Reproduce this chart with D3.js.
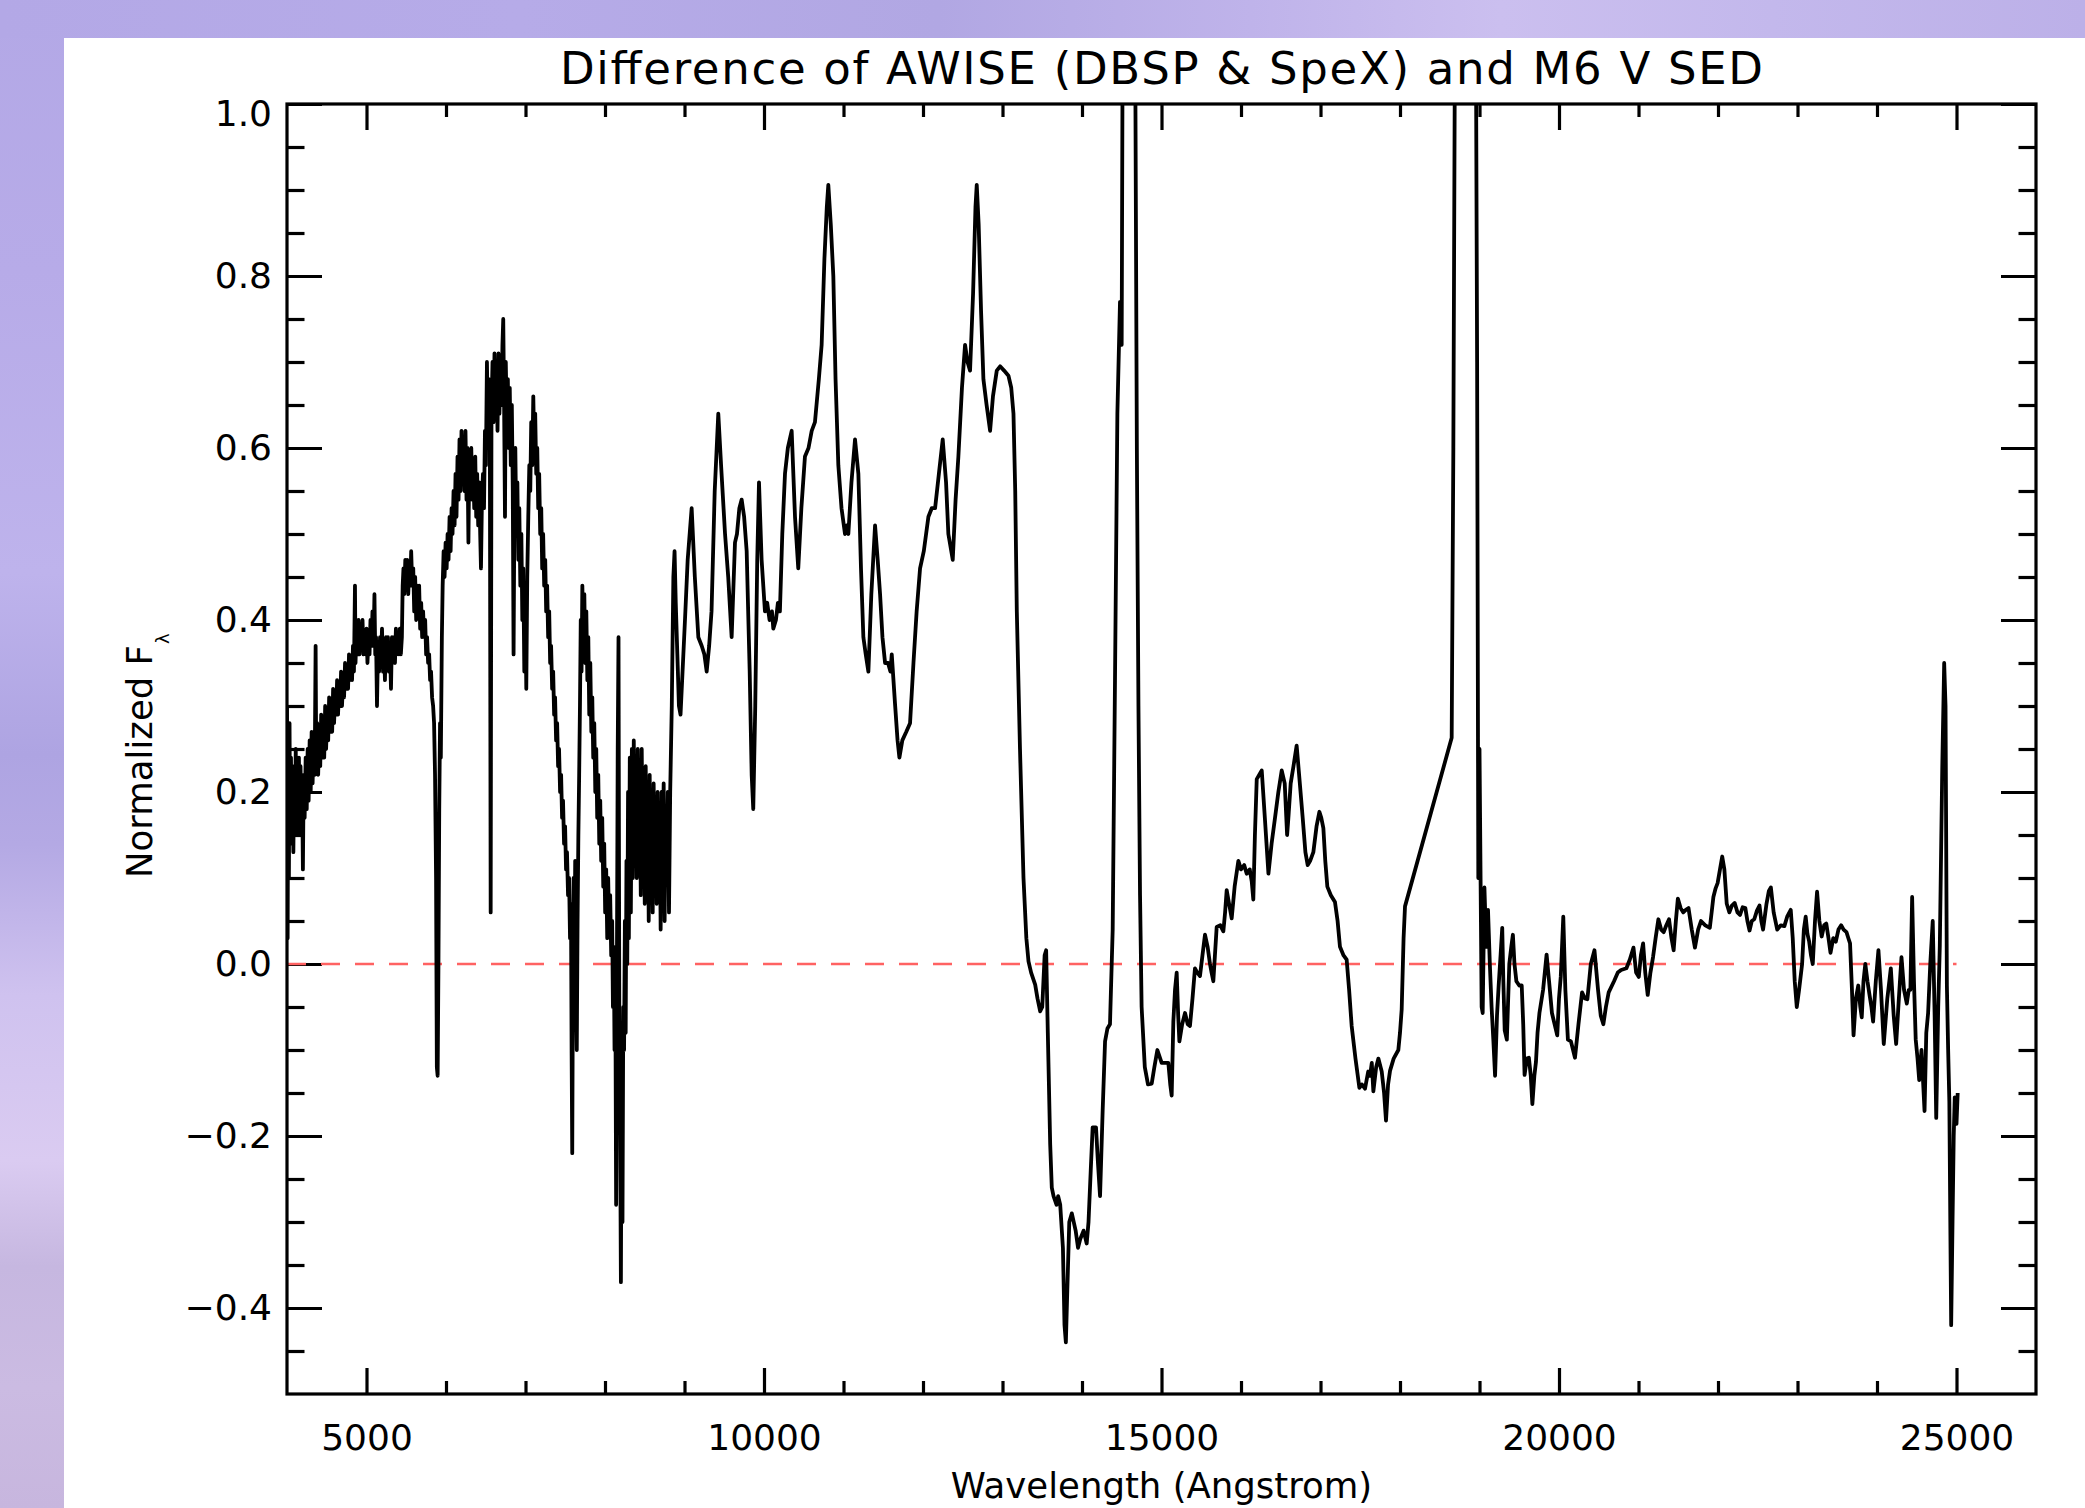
<!DOCTYPE html>
<html><head><meta charset="utf-8">
<script src="https://cdn.jsdelivr.net/npm/d3@7"></script>
<style>
html,body{margin:0;padding:0;background:#fff;}
svg{display:block;}
</style></head>
<body>
<svg id="chart" width="2085" height="1508"></svg>
<script>
// ---------------- text ----------------
const titleText = "Difference of AWISE (DBSP & SpeX) and M6 V SED";
const xTitle = "Wavelength (Angstrom)";
const yTitleMain = "Normalized F";
const yTitleSub = "\u03bb";

// ---------------- axes ----------------
const xDomain = [4000, 26000];
const yDomain = [-0.5, 1.0];
const xMajorTicks = [5000, 10000, 15000, 20000, 25000];
const xMinorTicks = [6000, 7000, 8000, 9000, 11000, 12000, 13000, 14000, 16000, 17000, 18000, 19000, 21000, 22000, 23000, 24000];
const yMajorTicks = [-0.4, -0.2, 0.0, 0.2, 0.4, 0.6, 0.8, 1.0];
const yMinorTicks = [-0.45, -0.35, -0.3, -0.25, -0.15, -0.1, -0.05, 0.05, 0.1, 0.15, 0.25, 0.3, 0.35, 0.45, 0.5, 0.55, 0.65, 0.7, 0.75, 0.85, 0.9, 0.95];

// reference zero level (red dashed)
const zeroLine = [[4000, 0], [25000, 0]];

// ---------------- data: [wavelength (A), normalized flux difference] ----------------
// DBSP optical part (dense, noisy)
const dbspSpectrum = [
[4000,0.30],[4008,0.03],[4016,0.26],[4024,0.10],[4032,0.28],[4040,0.14],[4050,0.24],[4060,0.15],[4070,0.22],[4080,0.13],
[4090,0.23],[4100,0.16],[4110,0.25],[4120,0.15],[4130,0.22],[4140,0.17],[4150,0.24],[4160,0.15],[4170,0.23],[4180,0.18],
[4190,0.21],[4200,0.11],[4210,0.22],[4222,0.17],[4235,0.24],[4248,0.18],[4260,0.25],[4272,0.19],[4285,0.26],[4298,0.20],
[4310,0.27],[4322,0.21],[4335,0.26],[4348,0.22],[4360,0.37],[4368,0.23],[4380,0.28],[4392,0.22],[4405,0.27],[4418,0.23],
[4430,0.29],[4442,0.24],[4455,0.28],[4468,0.24],[4480,0.30],[4492,0.25],[4505,0.29],[4518,0.26],[4530,0.31],[4542,0.27],
[4555,0.30],[4568,0.27],[4580,0.32],[4592,0.28],[4605,0.31],[4618,0.29],[4630,0.33],[4642,0.29],[4655,0.32],[4668,0.30],
[4680,0.34],[4692,0.30],[4705,0.33],[4718,0.31],[4730,0.35],[4742,0.32],[4755,0.34],[4768,0.32],[4780,0.36],[4792,0.33],
[4805,0.35],[4818,0.33],[4830,0.37],[4842,0.34],[4855,0.44],[4862,0.35],[4875,0.39],[4888,0.36],[4900,0.40],[4912,0.36],
[4925,0.39],[4938,0.37],[4950,0.40],[4962,0.36],[4975,0.38],[4988,0.36],[5000,0.39],[5012,0.35],[5025,0.38],[5038,0.36],
[5050,0.40],[5062,0.37],[5075,0.41],[5088,0.37],[5100,0.43],[5110,0.36],[5120,0.38],[5132,0.30],[5145,0.37],[5158,0.34],
[5170,0.38],[5182,0.35],[5195,0.39],[5208,0.34],[5220,0.37],[5232,0.33],[5245,0.38],[5258,0.35],[5270,0.38],[5282,0.34],
[5295,0.37],[5308,0.32],[5320,0.38],[5332,0.35],[5345,0.38],[5358,0.35],[5370,0.39],[5382,0.36],[5395,0.38],[5408,0.36],
[5420,0.39],[5432,0.36],[5445,0.38],[5455,0.44],[5465,0.46],[5475,0.43],[5488,0.47],[5500,0.44],[5512,0.47],[5525,0.43],
[5538,0.46],[5550,0.44],[5562,0.48],[5575,0.44],[5588,0.46],[5600,0.41],[5612,0.45],[5625,0.40],[5638,0.44],[5650,0.42],
[5662,0.44],[5675,0.39],[5688,0.42],[5700,0.38],[5712,0.41],[5725,0.38],[5738,0.40],[5750,0.36],[5762,0.38],[5775,0.35],
[5788,0.36],[5800,0.33],[5812,0.34],[5825,0.31],[5838,0.30],[5850,0.28],[5862,0.22],[5875,0.10],[5885,-0.12],[5895,-0.13],
[5905,0.00],[5915,0.18],[5925,0.28],[5935,0.24],[5948,0.38],[5958,0.44],[5970,0.48],[5982,0.45],[5995,0.49],[6008,0.46],
[6020,0.50],[6032,0.47],[6045,0.52],[6058,0.48],[6070,0.53],[6082,0.50],[6095,0.55],[6108,0.51],[6120,0.57],[6132,0.52],
[6145,0.59],[6158,0.54],[6170,0.61],[6182,0.55],[6195,0.62],[6208,0.56],[6220,0.61],[6232,0.55],[6245,0.62],[6258,0.54],
[6270,0.60],[6282,0.49],[6292,0.58],[6305,0.55],[6318,0.60],[6330,0.54],[6342,0.58],[6355,0.53],[6368,0.59],[6380,0.52],
[6392,0.57],[6405,0.51],[6418,0.56],[6430,0.50],[6440,0.46],[6452,0.54],[6465,0.57],[6478,0.53],[6490,0.62],[6502,0.58],
[6515,0.70],[6528,0.62],[6540,0.68],[6552,0.60],[6562,0.06],[6572,0.64],[6585,0.70],[6598,0.63],[6610,0.71],[6622,0.64],
[6635,0.70],[6648,0.62],[6660,0.71],[6672,0.64],[6685,0.69],[6698,0.65],[6710,0.72],[6720,0.75],[6730,0.66],[6742,0.52],
[6752,0.70],[6765,0.63],[6778,0.68],[6790,0.60],[6802,0.67],[6815,0.58],[6828,0.65],[6840,0.55],[6850,0.36],[6860,0.52],
[6872,0.60],[6885,0.50],[6898,0.56],[6910,0.47],[6922,0.53],[6935,0.44],[6948,0.50],[6960,0.40],[6972,0.46],[6985,0.34],
[6998,0.42],[7010,0.32],[7022,0.45],[7035,0.52],[7048,0.58],[7060,0.55],[7072,0.63],[7085,0.58],[7098,0.66],[7110,0.60],
[7122,0.64],[7135,0.57],[7148,0.60],[7160,0.53],[7172,0.57],[7185,0.50],[7198,0.53],[7210,0.46],[7222,0.50],[7235,0.44],
[7248,0.47],[7260,0.41],[7272,0.44],[7285,0.38],[7298,0.41],[7310,0.35],[7322,0.37],[7335,0.32],[7348,0.34],[7360,0.29],
[7372,0.31],[7385,0.26],[7398,0.28],[7410,0.23],[7422,0.25],[7435,0.20],[7448,0.22],[7460,0.17],[7472,0.19],[7485,0.14],
[7498,0.16],[7510,0.11],[7522,0.13],[7535,0.08],[7548,0.10],[7560,0.03],[7572,0.07],[7580,-0.10],[7588,-0.22],[7595,-0.05],
[7605,0.10],[7615,-0.02],[7625,0.12],[7635,-0.03],[7645,-0.10],[7655,0.05],[7665,0.15],[7675,0.22],[7685,0.30],[7695,0.40],
[7705,0.34],[7715,0.44],[7728,0.38],[7740,0.43],[7752,0.35],[7765,0.41],[7778,0.33],[7790,0.38],[7802,0.29],[7815,0.35],
[7828,0.27],[7840,0.31],[7852,0.24],[7865,0.28],[7878,0.20],[7890,0.25],[7902,0.17],[7915,0.22],[7928,0.14],[7940,0.19],
[7952,0.12],[7965,0.17],[7978,0.09],[7990,0.14],[8002,0.06],[8015,0.11],[8028,0.03],[8040,0.10],[8052,0.04],[8065,0.08],
[8078,0.01],[8090,0.05],[8100,-0.05],[8110,0.02],[8120,-0.10],[8130,-0.02],[8140,-0.28],[8150,0.00],[8160,0.25],[8170,0.38],
[8180,-0.05],[8190,-0.18],[8200,-0.37],[8210,-0.10],[8220,-0.30],[8230,-0.05],[8240,-0.10],[8250,0.05],[8260,-0.08],[8270,0.12],
[8280,0.00],[8290,0.20],[8300,0.03],[8312,0.24],[8325,0.06],[8338,0.25],[8350,0.10],[8362,0.26],[8375,0.12],[8388,0.24],
[8400,0.10],[8412,0.25],[8425,0.13],[8438,0.22],[8450,0.08],[8462,0.25],[8475,0.12],[8488,0.21],[8500,0.07],[8512,0.23],
[8525,0.10],[8538,0.20],[8550,0.05],[8562,0.22],[8575,0.09],[8588,0.20],[8600,0.06],[8612,0.21],[8625,0.10],[8638,0.19],
[8650,0.07],[8662,0.20],[8675,0.09],[8688,0.18],[8700,0.04],[8712,0.20],[8725,0.12],[8738,0.21],[8750,0.05],[8762,0.18],
[8775,0.10],[8790,0.20],[8805,0.06],[8820,0.20],[8840,0.30],[8860,0.45],[8875,0.48],[8890,0.42],[8910,0.36],[8930,0.30],
[8950,0.29]
];

// SpeX J and H bands (including the telluric residual spikes that run off the top)
const spexJH = [
[9006,0.40],[9040,0.47],[9090,0.53],[9130,0.45],[9174,0.38],[9216,0.37],[9250,0.36],[9279,0.34],[9310,0.37],[9340,0.41],
[9380,0.55],[9425,0.64],[9460,0.58],[9510,0.50],[9550,0.45],[9593,0.38],[9635,0.49],[9660,0.50],[9690,0.53],[9719,0.54],
[9750,0.52],[9782,0.48],[9820,0.34],[9845,0.22],[9865,0.18],[9890,0.30],[9915,0.47],[9937,0.56],[9970,0.47],[10012,0.41],
[10040,0.42],[10070,0.40],[10100,0.41],[10117,0.39],[10150,0.40],[10175,0.42],[10200,0.41],[10230,0.50],[10264,0.57],[10300,0.60],
[10348,0.62],[10390,0.52],[10431,0.46],[10470,0.53],[10515,0.59],[10560,0.60],[10600,0.62],[10641,0.63],[10690,0.68],[10725,0.72],
[10760,0.82],[10790,0.88],[10809,0.906],[10840,0.86],[10872,0.80],[10900,0.68],[10935,0.58],[10975,0.53],[11019,0.50],[11040,0.51],
[11061,0.50],[11100,0.56],[11145,0.61],[11187,0.57],[11220,0.46],[11250,0.38],[11280,0.36],[11313,0.34],[11350,0.43],[11397,0.51],
[11430,0.47],[11460,0.43],[11490,0.38],[11523,0.35],[11560,0.35],[11590,0.34],[11607,0.36],[11650,0.30],[11680,0.26],[11703,0.24],
[11740,0.26],[11790,0.27],[11837,0.28],[11880,0.35],[11920,0.41],[11963,0.46],[12010,0.48],[12068,0.52],[12110,0.53],[12152,0.53],
[12200,0.57],[12248,0.61],[12290,0.56],[12319,0.50],[12374,0.47],[12410,0.54],[12445,0.59],[12490,0.67],[12529,0.72],[12560,0.70],
[12592,0.69],[12630,0.78],[12660,0.88],[12676,0.906],[12700,0.86],[12730,0.76],[12760,0.68],[12800,0.65],[12844,0.62],[12880,0.66],
[12928,0.69],[12970,0.695],[13020,0.69],[13075,0.684],[13110,0.67],[13138,0.64],[13160,0.55],[13180,0.41],[13220,0.25],[13264,0.10],
[13300,0.03],[13327,0.003],[13360,-0.01],[13411,-0.024],[13440,-0.04],[13474,-0.055],[13500,-0.05],[13530,0.01],[13549,0.016],[13570,-0.08],
[13600,-0.21],[13620,-0.26],[13642,-0.27],[13680,-0.28],[13700,-0.27],[13726,-0.28],[13760,-0.33],[13780,-0.42],[13797,-0.44],[13815,-0.38],
[13840,-0.30],[13872,-0.29],[13920,-0.31],[13950,-0.33],[13977,-0.32],[14020,-0.31],[14059,-0.325],[14082,-0.30],[14110,-0.24],[14134,-0.19],
[14166,-0.19],[14176,-0.19],[14200,-0.23],[14227,-0.27],[14260,-0.17],[14290,-0.09],[14320,-0.075],[14352,-0.07],[14386,0.04],[14415,0.33],
[14445,0.64],[14478,0.77],[14499,0.72],[14512,1.10],[14540,1.50],[14580,1.40],[14620,1.40],[14650,1.30],[14670,1.05],[14690,0.60],
[14710,0.30],[14730,0.08],[14750,-0.05],[14790,-0.12],[14830,-0.14],[14877,-0.139],[14910,-0.12],[14948,-0.10],[15002,-0.115],[15050,-0.115],
[15086,-0.115],[15110,-0.14],[15128,-0.153],[15149,-0.067],[15170,-0.03],[15191,-0.01],[15210,-0.06],[15225,-0.09],[15260,-0.07],[15296,-0.057],
[15330,-0.07],[15358,-0.072],[15390,-0.04],[15421,-0.005],[15450,-0.01],[15484,-0.014],[15515,0.01],[15547,0.034],[15580,0.02],[15610,0.00],
[15630,-0.01],[15652,-0.02],[15694,0.043],[15740,0.045],[15778,0.038],[15800,0.06],[15820,0.086],[15850,0.07],[15883,0.053],[15920,0.09],
[15967,0.12],[16000,0.11],[16040,0.115],[16072,0.105],[16110,0.11],[16135,0.096],[16155,0.075],[16175,0.15],[16198,0.215],[16230,0.22],
[16261,0.225],[16300,0.17],[16345,0.105],[16385,0.14],[16428,0.17],[16470,0.20],[16512,0.225],[16550,0.21],[16580,0.15],[16596,0.17],
[16625,0.21],[16660,0.23],[16700,0.254],[16740,0.21],[16776,0.17],[16810,0.13],[16839,0.115],[16870,0.12],[16910,0.13],[16950,0.16],
[16986,0.177],[17010,0.17],[17036,0.158],[17060,0.12],[17086,0.09],[17130,0.08],[17182,0.072],[17215,0.05],[17245,0.02],[17290,0.01],
[17329,0.005],[17360,-0.03],[17392,-0.072],[17440,-0.11],[17489,-0.144],[17520,-0.14],[17560,-0.145],[17600,-0.125],[17623,-0.13],[17645,-0.115],
[17665,-0.148],[17700,-0.12],[17728,-0.11],[17770,-0.125],[17800,-0.15],[17824,-0.182],[17850,-0.14],[17875,-0.124],[17920,-0.11],[17979,-0.10],
[18000,-0.08],[18021,-0.053],[18045,0.03],[18063,0.067],[18650,0.263],[18671,0.60],[18692,1.10],[18720,1.50],[18800,1.60],[18900,1.50],
[18950,1.20],[18970,0.70],[18985,0.10],[19000,0.25],[19027,-0.05]
];

// SpeX K band
const spexK = [
[19040,-0.057],[19062,0.089],[19085,0.02],[19107,0.063],[19130,0.00],[19152,-0.05],[19175,-0.09],[19196,-0.13],[19220,-0.06],[19241,-0.025],
[19265,0.01],[19286,0.042],[19300,-0.02],[19317,-0.077],[19344,-0.088],[19375,0.00],[19400,0.02],[19420,0.034],[19440,0.00],[19464,-0.02],
[19500,-0.025],[19531,-0.025],[19550,-0.07],[19567,-0.129],[19595,-0.11],[19621,-0.109],[19645,-0.13],[19665,-0.163],[19690,-0.13],[19710,-0.114],
[19730,-0.08],[19754,-0.057],[19800,-0.03],[19844,0.011],[19875,-0.02],[19911,-0.057],[19945,-0.07],[19978,-0.083],[20000,-0.04],[20022,-0.015],
[20054,0.055],[20080,-0.03],[20112,-0.088],[20150,-0.09],[20201,-0.109],[20245,-0.07],[20290,-0.033],[20325,-0.04],[20357,-0.041],[20400,0.00],
[20446,0.016],[20491,-0.03],[20525,-0.06],[20558,-0.07],[20590,-0.05],[20625,-0.033],[20692,-0.02],[20740,-0.01],[20781,-0.007],[20848,-0.005],
[20890,0.005],[20937,0.019],[20970,-0.01],[21004,-0.015],[21030,0.01],[21058,0.024],[21085,-0.01],[21116,-0.036],[21150,-0.01],[21183,0.008],
[21215,0.03],[21250,0.052],[21285,0.04],[21317,0.037],[21350,0.045],[21384,0.052],[21415,0.03],[21442,0.016],[21470,0.05],[21495,0.076],
[21530,0.065],[21562,0.06],[21595,0.063],[21629,0.065],[21670,0.04],[21710,0.019],[21750,0.04],[21786,0.05],[21840,0.045],[21897,0.042],
[21920,0.06],[21942,0.078],[21970,0.088],[21995,0.094],[22025,0.11],[22053,0.125],[22080,0.11],[22110,0.07],[22143,0.06],[22175,0.068],
[22210,0.071],[22245,0.06],[22277,0.057],[22310,0.066],[22344,0.065],[22370,0.05],[22397,0.039],[22425,0.05],[22456,0.052],[22490,0.062],
[22522,0.068],[22545,0.05],[22567,0.04],[22610,0.07],[22640,0.085],[22665,0.089],[22700,0.06],[22745,0.04],[22790,0.045],[22835,0.044],
[22870,0.055],[22915,0.063],[22940,0.03],[22965,-0.02],[22991,-0.05],[23020,-0.03],[23058,0.00],[23080,0.04],[23103,0.055],[23125,0.035],
[23147,0.026],[23170,0.01],[23192,0.00],[23220,0.05],[23246,0.084],[23275,0.05],[23304,0.032],[23335,0.045],[23362,0.047],[23390,0.03],
[23415,0.013],[23450,0.03],[23482,0.026],[23515,0.04],[23549,0.045],[23580,0.04],[23616,0.037],[23640,0.03],[23661,0.024],[23685,-0.03],
[23705,-0.083],[23735,-0.04],[23764,-0.025],[23790,-0.05],[23808,-0.062],[23830,-0.02],[23853,0.00],[23880,-0.02],[23906,-0.036],[23930,-0.05],
[23951,-0.067],[23985,-0.02],[24018,0.016],[24050,-0.03],[24085,-0.093],[24130,-0.04],[24174,-0.005],[24210,-0.06],[24241,-0.093],[24275,-0.04],
[24308,0.008],[24340,-0.03],[24375,-0.046],[24400,-0.03],[24420,-0.03],[24442,0.078],[24465,-0.02],[24487,-0.088],[24510,-0.11],[24531,-0.135],
[24560,-0.10],[24598,-0.171],[24620,-0.08],[24643,-0.057],[24670,0.00],[24701,0.05],[24725,-0.06],[24745,-0.179],[24770,-0.05],[24790,0.021],
[24821,0.229],[24845,0.35],[24862,0.30],[24879,-0.025],[24895,-0.10],[24910,-0.16],[24922,-0.30],[24933,-0.42],[24950,-0.30],[24965,-0.20],
[24978,-0.155],[25000,-0.186],[25015,-0.15]
];

// ---------------- drawing ----------------
const svg = d3.select("#chart");
const defs = svg.append("defs");

// page background (purple slide frame)
const gl = defs.append("linearGradient").attr("id","leftGrad").attr("x1",0).attr("y1",0).attr("x2",0).attr("y2",1);
[[0,"#b3a8e6"],[0.18,"#b7abe8"],[0.38,"#beb3ec"],[0.5,"#aea4e2"],[0.56,"#b4a9e4"],[0.66,"#cfc2ef"],[0.77,"#dacbf1"],[0.84,"#c6b7e0"],[0.92,"#cbbbe2"],[1,"#c7b6de"]]
  .forEach(s => gl.append("stop").attr("offset", s[0]).attr("stop-color", s[1]));
const gt = defs.append("linearGradient").attr("id","topGrad").attr("x1",0).attr("y1",0).attr("x2",1).attr("y2",0);
[[0,"#b3a8e6"],[0.25,"#b6abe8"],[0.45,"#b1a7e3"],[0.6,"#bfb3ea"],[0.72,"#cbbfef"],[0.85,"#c3b8ec"],[1,"#bcb0e8"]]
  .forEach(s => gt.append("stop").attr("offset", s[0]).attr("stop-color", s[1]));

svg.append("rect").attr("x",0).attr("y",0).attr("width",2085).attr("height",1508).attr("fill","#ffffff");
svg.append("rect").attr("x",0).attr("y",0).attr("width",64).attr("height",1508).attr("fill","url(#leftGrad)");
svg.append("rect").attr("x",0).attr("y",0).attr("width",2085).attr("height",38).attr("fill","url(#topGrad)");

// plot geometry
const L = 287, R = 2036, T = 104, B = 1394;
const x = d3.scaleLinear().domain(xDomain).range([L, R]);
const y = d3.scaleLinear().domain(yDomain).range([B, T]);
const tickX = 26, tickY = 35;

defs.append("clipPath").attr("id","plotClip")
  .append("rect").attr("x",L).attr("y",T).attr("width",R-L).attr("height",B-T);

const font = "'DejaVu Sans', 'Liberation Sans', sans-serif";

function styleAxis(g) {
  g.select(".domain").remove();
  g.selectAll(".tick line").attr("stroke","#000").attr("stroke-width",3.2);
  g.selectAll(".tick text").attr("fill","#000").style("font-family", font).style("font-size","36px");
}

// bottom
svg.append("g").attr("transform",`translate(0,${B})`)
  .call(d3.axisBottom(x).tickValues(xMajorTicks).tickSizeInner(-tickX).tickSizeOuter(0).tickPadding(30).tickFormat(d3.format("d")))
  .call(styleAxis);
svg.append("g").attr("transform",`translate(0,${B})`)
  .call(d3.axisBottom(x).tickValues(xMinorTicks).tickSizeInner(-tickX/2).tickSizeOuter(0).tickFormat(""))
  .call(styleAxis);
// top
svg.append("g").attr("transform",`translate(0,${T})`)
  .call(d3.axisTop(x).tickValues(xMajorTicks).tickSizeInner(-tickX).tickSizeOuter(0).tickFormat(""))
  .call(styleAxis);
svg.append("g").attr("transform",`translate(0,${T})`)
  .call(d3.axisTop(x).tickValues(xMinorTicks).tickSizeInner(-tickX/2).tickSizeOuter(0).tickFormat(""))
  .call(styleAxis);
// left
const gLeft = svg.append("g").attr("transform",`translate(${L},0)`)
  .call(d3.axisLeft(y).tickValues(yMajorTicks).tickSizeInner(-tickY).tickSizeOuter(0).tickPadding(15).tickFormat(d3.format(".1f")))
  .call(styleAxis);
gLeft.selectAll(".tick text").filter(d => d === 1.0).attr("dy","0.6em");
svg.append("g").attr("transform",`translate(${L},0)`)
  .call(d3.axisLeft(y).tickValues(yMinorTicks).tickSizeInner(-tickY/2).tickSizeOuter(0).tickFormat(""))
  .call(styleAxis);
// right
svg.append("g").attr("transform",`translate(${R},0)`)
  .call(d3.axisRight(y).tickValues(yMajorTicks).tickSizeInner(-tickY).tickSizeOuter(0).tickFormat(""))
  .call(styleAxis);
svg.append("g").attr("transform",`translate(${R},0)`)
  .call(d3.axisRight(y).tickValues(yMinorTicks).tickSizeInner(-tickY/2).tickSizeOuter(0).tickFormat(""))
  .call(styleAxis);

// zero reference line
svg.append("path").datum(zeroLine)
  .attr("d", d3.line().x(d => x(d[0])).y(d => y(d[1])))
  .attr("fill","none").attr("stroke","#ff6262").attr("stroke-width",2.4)
  .attr("stroke-dasharray","19,15");

// spectrum
const spectrum = dbspSpectrum.concat(spexJH, spexK);
svg.append("path").datum(spectrum)
  .attr("clip-path","url(#plotClip)")
  .attr("d", d3.line().x(d => x(d[0])).y(d => y(d[1])))
  .attr("fill","none").attr("stroke","#000").attr("stroke-width",3.8)
  .attr("stroke-linejoin","round");

// frame
svg.append("rect").attr("x",L).attr("y",T).attr("width",R-L).attr("height",B-T)
  .attr("fill","none").attr("stroke","#000").attr("stroke-width",3.2);

// title
svg.append("text").attr("x",(L+R)/2).attr("y",84).attr("text-anchor","middle")
  .attr("textLength",1203).attr("lengthAdjust","spacing")
  .style("font-family",font).style("font-size","45px").attr("fill","#000")
  .text(titleText);

// x title
svg.append("text").attr("x",(L+R)/2).attr("y",1498).attr("text-anchor","middle")
  .style("font-family",font).style("font-size","35.5px").attr("fill","#000")
  .text(xTitle);

// y title
const yt = svg.append("text")
  .attr("transform",`translate(152,${(T+B)/2}) rotate(-90)`)
  .attr("x",-129).attr("y",0).attr("text-anchor","start")
  .style("font-family",font).style("font-size","35.5px").attr("fill","#000");
yt.append("tspan").text(yTitleMain);
yt.append("tspan").attr("dy",17).attr("dx",1).style("font-size","18px").text(yTitleSub);
</script>
</body></html>
